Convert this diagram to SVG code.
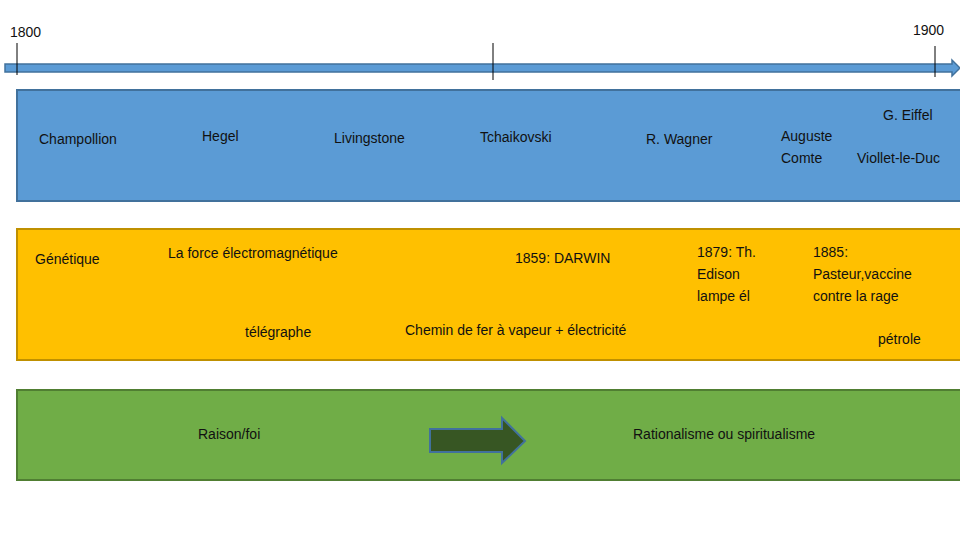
<svg xmlns="http://www.w3.org/2000/svg" width="960" height="540" viewBox="0 0 960 540">
<style>
text{font-family:"Liberation Sans",Arial,sans-serif;font-size:14px;fill:#111}
.tick{stroke:#000;stroke-width:1}
</style>
<rect width="960" height="540" fill="#fff"/>
<g id="timeline">
<polygon points="5,64 952,64 952,60 960,68 952,76 952,72 5,72" fill="#5b9bd5" stroke="#41719c" stroke-width="1.5"/>
<line class="tick" x1="17" y1="43" x2="17" y2="75"/>
<line class="tick" x1="493" y1="43" x2="493" y2="80"/>
<line class="tick" x1="935" y1="46" x2="935" y2="77"/>
<text x="10" y="37">1800</text>
<text x="913" y="35">1900</text>
</g>
<g id="band-people">
<rect x="17" y="90" width="950" height="111" fill="#5b9bd5" stroke="#41719c" stroke-width="2"/>
<text x="39" y="144">Champollion</text>
<text x="202" y="141">Hegel</text>
<text x="334" y="143">Livingstone</text>
<text x="480" y="142">Tchaikovski</text>
<text x="646" y="144">R. Wagner</text>
<text x="781" y="141">Auguste</text>
<text x="781" y="163">Comte</text>
<text x="883" y="120">G. Eiffel</text>
<text x="857" y="163">Viollet-le-Duc</text>
</g>
<g id="band-science">
<rect x="17" y="229" width="950" height="131" fill="#ffc000" stroke="#bf9000" stroke-width="2"/>
<text x="35" y="264">Génétique</text>
<text x="168" y="258">La force électromagnétique</text>
<text x="515" y="263">1859: DARWIN</text>
<text x="697" y="257">1879: Th.</text>
<text x="697" y="279">Edison</text>
<text x="697" y="301">lampe él</text>
<text x="813" y="257">1885:</text>
<text x="813" y="279">Pasteur,vaccine</text>
<text x="813" y="301">contre la rage</text>
<text x="245" y="337">télégraphe</text>
<text x="405" y="335">Chemin de fer à vapeur + électricité</text>
<text x="878" y="344">pétrole</text>
</g>
<g id="band-ideas">
<rect x="17" y="390" width="950" height="90" fill="#70ad47" stroke="#507e32" stroke-width="2"/>
<text x="198" y="439">Raison/foi</text>
<text x="633" y="439">Rationalisme ou spiritualisme</text>
</g>
<g id="connectors">
<polygon points="430,429 502,429 502,418 525,441 502,463 502,452 430,452" fill="#375623" stroke="#41719c" stroke-width="2"/>
</g>
</svg>
